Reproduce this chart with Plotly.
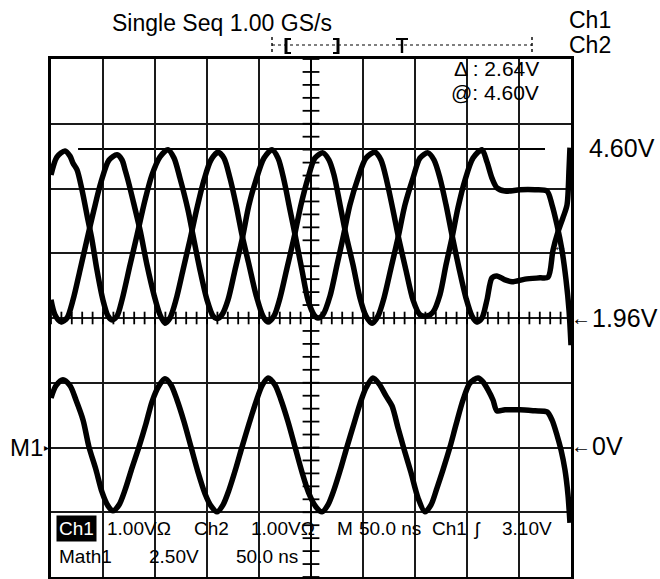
import plotly.graph_objects as go

# ---------------- data read from the screen ----------------
# time in ns (50 ns/div), Ch1/Ch2 in volts (1.00 V/div), Math1 in volts (2.50 V/div)
ch1_t = [0.0, 5.8, 13.5, 18.3, 21.2, 25.0, 29.8, 35.6, 39.4, 44.2, 49.9, 54.8, 58.7, 63.5, 68.3, 76.0,
         82.7, 90.4, 97.1, 104.8, 112.5, 118.3, 124.0, 131.7, 136.5, 143.3, 150.0, 155.8, 159.6, 164.4,
         170.2, 176.9, 183.7, 190.4, 197.1, 204.8, 212.5, 218.3, 224.0, 229.8, 235.6, 241.3, 247.1,
         252.9, 256.7, 261.5, 268.3, 275.0, 280.8, 287.5, 295.2, 302.9, 311.5, 317.3, 323.1, 328.8,
         334.6, 341.3, 348.1, 354.8, 361.5, 367.3, 374.0, 379.8, 385.6, 391.3, 398.1, 405.8, 414.4,
         419.2, 424.0, 428.8, 436.5, 450.9, 465.4, 476.9, 481.7, 486.5, 491.3, 495.2, 498.1, 500.0]
ch1_v = [4.20, 4.48, 4.57, 4.49, 4.38, 4.28, 3.97, 3.50, 3.20, 2.73, 2.27, 2.02, 1.96, 2.02, 2.27, 2.81,
         3.27, 3.81, 4.20, 4.48, 4.59, 4.46, 4.15, 3.66, 3.27, 2.73, 2.27, 2.02, 1.98, 2.04,
         2.27, 2.73, 3.20, 3.74, 4.12, 4.46, 4.59, 4.46, 4.12, 3.66, 3.20, 2.73, 2.27,
         2.04, 1.99, 2.04, 2.33, 2.81, 3.23, 3.74, 4.15, 4.46, 4.55, 4.43, 4.09, 3.66,
         3.20, 2.73, 2.27, 2.04, 2.02, 2.08, 2.35, 2.81, 3.23, 3.69, 4.12, 4.46, 4.59,
         4.40, 4.15, 4.00, 3.95, 3.97, 3.97, 3.95, 3.74, 3.43, 3.04, 2.58, 2.11, 1.57]

ch2_t = [0.0, 3.8, 9.6, 15.4, 21.2, 27.9, 34.6, 41.3, 48.1, 55.8, 63.5, 68.3, 71.2, 74.0, 78.8, 85.6,
         92.3, 99.0, 104.8, 109.6, 114.4, 120.2, 126.9, 133.7, 140.4, 147.1, 153.8, 160.6, 166.3,
         172.1, 177.9, 183.7, 190.4, 197.1, 203.8, 208.7, 214.4, 220.2, 226.9, 233.7, 240.4, 247.1,
         253.8, 261.5, 267.3, 272.1, 277.9, 283.7, 290.4, 297.1, 302.9, 308.7, 314.4, 320.2, 326.9,
         333.7, 340.4, 348.1, 354.8, 362.5, 368.3, 374.0, 379.8, 385.6, 392.3, 399.0, 404.8, 409.6,
         414.4, 419.2, 424.0, 428.8, 436.5, 443.3, 455.8, 470.2, 477.9, 482.7, 487.5, 492.3, 496.2,
         498.1, 499.0]
ch2_v = [2.27, 2.04, 1.93, 1.99, 2.27, 2.73, 3.20, 3.66, 4.09, 4.43, 4.51, 4.43, 4.28, 4.12, 3.81, 3.35,
         2.81, 2.35, 2.04, 1.91, 1.99, 2.27, 2.73, 3.20, 3.69, 4.12, 4.43, 4.55, 4.46,
         4.15, 3.74, 3.27, 2.81, 2.35, 2.02, 1.93, 2.02, 2.30, 2.76, 3.23, 3.74, 4.15,
         4.46, 4.54, 4.43, 4.20, 3.74, 3.27, 2.81, 2.30, 2.02, 1.91, 2.02, 2.30, 2.76,
         3.23, 3.74, 4.15, 4.46, 4.54, 4.43, 4.15, 3.74, 3.27, 2.76, 2.30, 2.02, 1.93,
         1.99, 2.27, 2.61, 2.64, 2.58, 2.55, 2.59, 2.61, 2.62, 3.04, 3.32, 3.54, 3.74,
         4.28, 4.62]

math_t = [0.0, 4.8, 11.5, 18.3, 24.0, 30.8, 36.5, 43.3, 49.0, 54.8, 59.6, 65.4, 71.2, 77.9, 84.6, 91.3,
          97.1, 103.8, 109.6, 115.4, 121.2, 127.9, 134.6, 141.3, 148.1, 153.8, 159.6, 165.4, 171.2,
          177.9, 183.7, 190.4, 197.1, 202.9, 208.7, 215.4, 221.2, 227.9, 234.6, 241.3, 248.1, 254.8,
          260.6, 266.3, 272.1, 278.8, 284.6, 291.3, 297.1, 302.9, 309.6, 315.4, 322.1, 327.9, 333.7,
          339.4, 346.2, 352.9, 359.6, 365.4, 371.2, 376.9, 383.7, 389.4, 396.2, 402.9, 410.6, 415.4,
          420.2, 425.0, 428.8, 436.5, 450.9, 465.4, 476.9, 481.7, 486.5, 490.4, 494.2, 497.1, 499.0]
math_v = [1.89, 2.36, 2.59, 2.36, 1.81, 1.04, 0.00, -0.89, -1.74, -2.28, -2.47, -2.24, -1.66, -0.81, 0.00, 0.89,
          1.74, 2.36, 2.63, 2.39, 1.81, 0.97, 0.00, -0.97, -1.81, -2.28, -2.51, -2.24, -1.66,
          -0.81, 0.00, 0.89, 1.74, 2.36, 2.66, 2.39, 1.81, 0.97, 0.00, -0.97, -1.81, -2.32,
          -2.51, -2.24, -1.66, -0.81, 0.00, 0.89, 1.66, 2.28, 2.66, 2.43, 1.97, 1.58, 0.73,
          -0.08, -1.00, -1.97, -2.51, -2.24, -1.58, -0.89, 0.00, 0.85, 1.81, 2.47, 2.66, 2.51,
          2.20, 1.81, 1.39, 1.43, 1.43, 1.39, 1.35, 1.04, 0.46, -0.12, -0.89, -1.85, -2.93]

header_text = "Single Seq 1.00 GS/s"
channel_names = ["Ch1", "Ch2"]
cursor_delta = "2.64V"
cursor_at = "4.60V"
cursor_level = 4.60
ref_level = 1.96
trigger_level = 3.10
math_vdiv = 2.50
status_row1 = ["1.00V\u03a9", "Ch2", "1.00V\u03a9", "M", "50.0 ns", "Ch1", "\u0283", "3.10V"]
status_row2 = ["Math1", "2.50V", "50.0 ns"]

# ---------------- screen geometry (page pixels) ----------------
W, H = 660, 579
L, R, T, B = 51, 571, 59, 577           # graticule frame in page pixels
X0, X1 = 0, 500                         # 10 div x 50 ns
Y1 = 5.99                               # top of screen in Ch volts
Y0 = Y1 - 8                             # 8 div x 1 V
YC = Y0 + 4                             # centre line

def P(px, py):
    return (px - L) / (R - L), (B - py) / (B - T)

FONT = "Liberation Sans, Arial, sans-serif"
TW = 5.5

fig = go.Figure()

for t, v in ((ch1_t, ch1_v), (ch2_t, ch2_v)):
    fig.add_trace(go.Scatter(x=t, y=v, mode="lines",
                             line=dict(color="black", width=TW, shape="spline", smoothing=0.8),
                             hoverinfo="skip"))
fig.add_trace(go.Scatter(x=math_t, y=[m / math_vdiv for m in math_v], mode="lines",
                         line=dict(color="black", width=TW, shape="spline", smoothing=0.8),
                         hoverinfo="skip"))

# centre-line minor ticks
hx = [X0 + k * (X1 - X0) / 50 for k in range(51)]
fig.add_trace(go.Scatter(x=hx, y=[YC] * len(hx), mode="markers",
                         marker=dict(symbol="line-ns", size=9, line=dict(color="black", width=1.8)),
                         hoverinfo="skip"))
vy = [Y0 + k * 0.2 for k in range(41)]
fig.add_trace(go.Scatter(x=[(X0 + X1) / 2] * len(vy), y=vy, mode="markers",
                         marker=dict(symbol="line-ew", size=12, line=dict(color="black", width=1.8)),
                         hoverinfo="skip"))
fig.add_trace(go.Scatter(x=[(X0 + X1) / 2] * 2, y=[Y0, Y1], mode="lines",
                         line=dict(color="black", width=1.8), hoverinfo="skip"))

shapes = []
# white status boxes (between grid and traces)
for (ax, ay, bx, by) in ((L + 2, 515, R - 2, 545), (L + 2, 545, 305, 567)):
    x0, y0 = P(ax, ay)
    x1, y1 = P(bx, by)
    shapes.append(dict(type="rect", xref="paper", yref="paper", x0=x0, x1=x1, y0=y0, y1=y1,
                       fillcolor="white", line=dict(width=0), layer="between"))
# amplitude cursor
shapes.append(dict(type="line", xref="x", yref="y", x0=26, x1=475, y0=cursor_level, y1=cursor_level,
                   line=dict(color="black", width=1.8), layer="below"))
# record indicator bar at top
def seg(ax, ay, bx, by, w=1.4, dash="solid"):
    x0, y0 = P(ax, ay)
    x1, y1 = P(bx, by)
    shapes.append(dict(type="line", xref="paper", yref="paper", x0=x0, y0=y0, x1=x1, y1=y1,
                       line=dict(color="black", width=w, dash=dash)))
seg(272, 45, 532, 45, 1.2, "dot")
seg(272, 37, 272, 54, 1.4, "dot")
seg(532, 37, 532, 54, 1.4, "dot")
seg(286, 38, 286, 54, 3)
seg(286, 39, 291, 39, 2)
seg(286, 53, 291, 53, 2)
seg(338, 38, 338, 54, 3)
seg(333, 39, 338, 39, 2)
seg(333, 53, 338, 53, 2)
seg(396, 39, 408, 39, 2)
seg(402, 39, 402, 53, 2.4)

ann = []
def text(s, px, py, size, anchor="left", color="black", bg=None, pad=0):
    x, y = P(px, py)
    d = dict(text=s, x=x, y=y, xref="paper", yref="paper", xanchor=anchor, yanchor="middle",
             showarrow=False, font=dict(family=FONT, size=size, color=color), borderpad=pad)
    if bg:
        d["bgcolor"] = bg
    ann.append(d)

text(header_text, 111, 23, 23)
text(channel_names[0], 568, 20, 23)
text(channel_names[1], 568, 45, 23)
text("\u0394 : " + cursor_delta, 540, 69, 21, "right")
text("@: " + cursor_at, 540, 92, 21, "right")
text(f"{cursor_level:.2f}V", 588, 148, 25)
text("\u2190", 570, 318, 20)
text(f"{ref_level:.2f}V", 591, 318, 25)
text("\u2190", 570, 446, 20)
text("0V", 591, 446, 25)
text("M1", 44, 447, 24, "right")
text("\u25b8", 43, 447, 10)
x_tl, _ = P(569, 247)
ann.append(dict(text="\u2190", x=x_tl, y=trigger_level, xref="paper", yref="y", xanchor="right",
                yanchor="middle", showarrow=False, font=dict(family=FONT, size=14, color="black")))
# status rows
text("Ch1", 56, 528, 19, "left", "white", "black", 2)
text(status_row1[0], 106, 528, 19)
text(status_row1[1], 193, 528, 19)
text(status_row1[2], 250, 528, 19)
text(status_row1[3], 336, 528, 19)
text(status_row1[4], 358, 528, 19)
text(status_row1[5], 431, 528, 19)
text(status_row1[6], 472, 528, 19)
text(status_row1[7], 501, 528, 19)
text(status_row2[0], 58, 556, 19)
text(status_row2[1], 148, 556, 19)
text(status_row2[2], 235, 556, 19)

fig.update_layout(
    width=W, height=H, autosize=False,
    margin=dict(l=L, r=W - R, t=T, b=H - B, pad=0),
    paper_bgcolor="white", plot_bgcolor="white",
    showlegend=False,
    shapes=shapes, annotations=ann,
    xaxis=dict(range=[X0, X1], dtick=50, tick0=0, showgrid=True, gridcolor="#1a1a1a", gridwidth=1.8,
               showline=True, mirror=True, linecolor="black", linewidth=3,
               showticklabels=False, ticks="", zeroline=False, fixedrange=True),
    yaxis=dict(range=[Y0, Y1], dtick=1, tick0=Y0, showgrid=True, gridcolor="#1a1a1a", gridwidth=1.8,
               showline=True, mirror=True, linecolor="black", linewidth=3,
               showticklabels=False, ticks="", zeroline=False, fixedrange=True),
)

fig.write_html("out.html", config={"displayModeBar": False},
               post_script="document.body.style.margin='0';document.body.style.overflow='hidden';")
